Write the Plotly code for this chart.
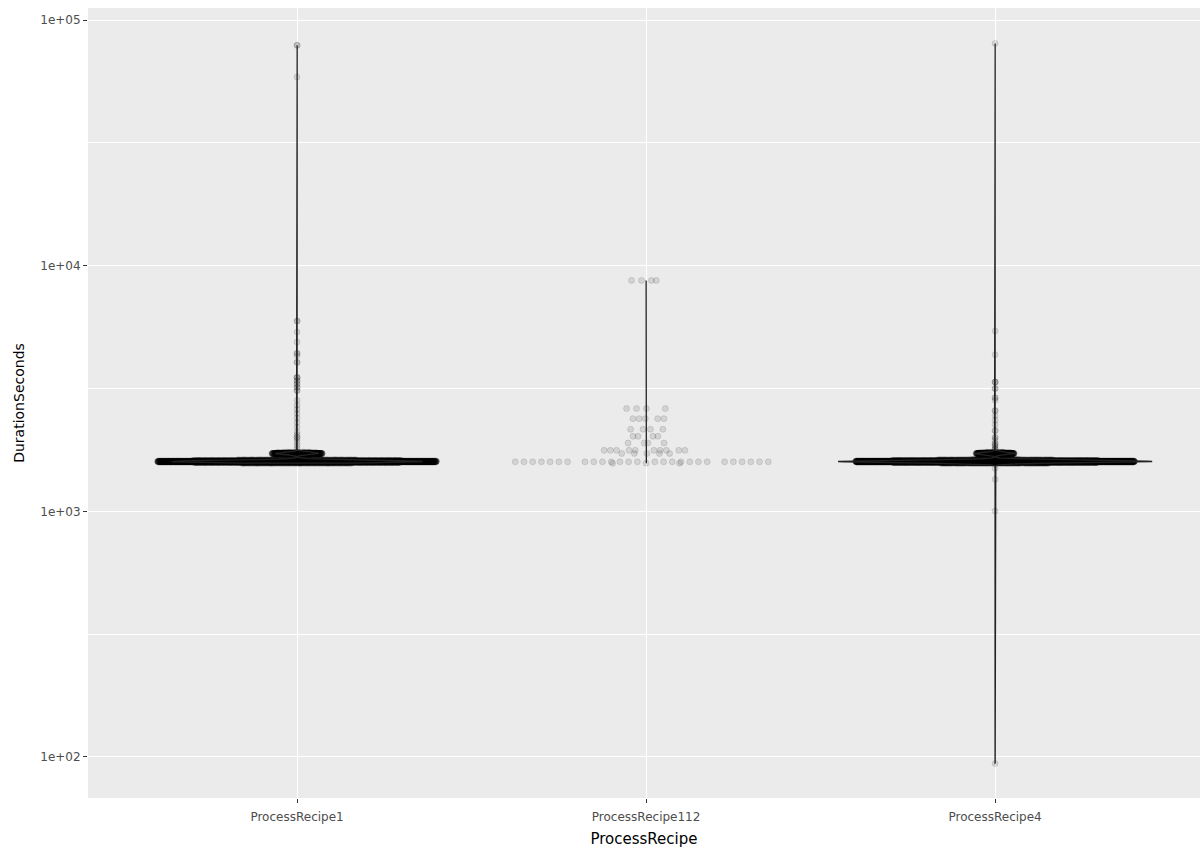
import numpy as np
import plotly.graph_objects as go

# ---------------- data ----------------
categories = ["ProcessRecipe1", "ProcessRecipe112", "ProcessRecipe4"]

# distinct run durations (seconds) and how many runs had each duration
recipe1_values = [1570, 1580, 1590, 1600, 1610, 1620, 1630,
                  1700, 1710, 1720, 1730, 1740,
                  1800, 1850, 1900, 1950, 2000, 2050, 2100, 2200, 2300, 2400,
                  2500, 2600, 2700, 2830, 3100, 3200, 3300, 3400, 3510,
                  4040, 4300, 4400, 4890, 5370, 5950, 58600, 78900]
recipe1_counts = [100, 350, 900, 900, 350, 100, 30,
                  15, 50, 280, 50, 15,
                  1, 1, 1, 1, 2, 1, 1, 1, 1, 1,
                  1, 1, 1, 1, 2, 2, 2, 2, 3,
                  2, 1, 2, 1, 1, 2, 1, 2]

recipe112_values = [1570, 1590, 1720, 1771, 1897, 2020, 2158, 2384, 2620, 8710]
recipe112_counts = [3, 27, 5, 10, 4, 4, 4, 5, 4, 4]

recipe4_values = [94, 1003, 1350, 1496,
                  1570, 1580, 1590, 1600, 1610, 1620, 1630,
                  1700, 1710, 1720, 1730, 1740,
                  1780, 1800, 1850, 1890, 1950, 2000, 2130, 2250, 2350, 2450,
                  2570, 2830, 2900, 3160, 3360, 4340, 5420, 80300]
recipe4_counts = [1, 1, 1, 1,
                  120, 400, 1150, 1150, 400, 120, 30,
                  15, 50, 260, 50, 15,
                  1, 2, 2, 2, 1, 2, 2, 1, 1, 1,
                  2, 1, 2, 2, 3, 1, 1, 1]

y_tick_values = [1e2, 1e3, 1e4, 1e5]
y_tick_labels = ["1e+02", "1e+03", "1e+04", "1e+05"]
y_minor_values = [10 ** 2.5, 10 ** 3.5, 10 ** 4.5]

groups = [(recipe1_values, recipe1_counts),
          (recipe112_values, recipe112_counts),
          (recipe4_values, recipe4_counts)]

# ---------------- helpers ----------------
POINT_BW = 0.004      # bandwidth (log10 units) used to spread the points
POINT_WIDTH = 0.4     # quasirandom half width
VIOLIN_WIDTH = 0.45   # violin half width


def nrd0(x):
    hi = np.std(x, ddof=1)
    q75, q25 = np.percentile(x, [75, 25])
    lo = min(hi, (q75 - q25) / 1.34)
    if lo <= 0:
        lo = hi if hi > 0 else 1.0
    return 0.9 * lo * len(x) ** -0.2


def kde(grid, vals, cnts, bw):
    vals = np.asarray(vals)[None, :]
    cnts = np.asarray(cnts, dtype=float)[None, :]
    g = np.asarray(grid)[:, None]
    k = np.exp(-0.5 * ((g - vals) / bw) ** 2) / (bw * np.sqrt(2 * np.pi))
    return (k * cnts).sum(axis=1) / cnts.sum()


def vdc(k):
    v, denom = 0.0, 1.0
    while k:
        denom *= 2
        k, rem = divmod(k, 2)
        v += rem / denom
    return v


BG = "#EBEBEB"
fig = go.Figure()

# ---------------- points (quasirandom) ----------------
for gi, (vals, cnts) in enumerate(groups):
    center = gi + 1
    lv = np.log10(np.asarray(vals, dtype=float))
    dens_at = kde(lv, lv, cnts, POINT_BW)
    rel = dens_at / dens_at.max()
    ys, xs = [], []
    order = np.argsort(lv)
    rank = 1
    for idx in order:
        for _ in range(cnts[idx]):
            off = (2 * vdc(rank) - 1) * POINT_WIDTH * rel[idx]
            xs.append(center + off)
            ys.append(vals[idx])
            rank += 1
    fig.add_trace(go.Scatter(
        x=xs, y=ys, mode="markers", hoverinfo="skip", showlegend=False,
        marker=dict(size=6, color="rgba(0,0,0,0.1)",
                    line=dict(color="rgba(0,0,0,0.14)", width=0.8)),
    ))

# ---------------- violins (scale = count) ----------------
vinfo = []
for gi, (vals, cnts) in enumerate(groups):
    lv = np.log10(np.asarray(vals, dtype=float))
    sample = np.repeat(lv, cnts)
    bw = max(nrd0(sample), POINT_BW)
    grid = np.linspace(lv.min(), lv.max(), 3000)
    extra = (lv[:, None] + bw * np.arange(-4, 4.01, 0.2)[None, :]).ravel()
    extra = extra[(extra >= lv.min()) & (extra <= lv.max())]
    grid = np.unique(np.concatenate([grid, extra]))
    d = kde(grid, lv, cnts, bw) * sum(cnts)
    vinfo.append((grid, d))
maxnd = max(d.max() for _, d in vinfo)
for gi, (grid, d) in enumerate(vinfo):
    center = gi + 1
    hw = VIOLIN_WIDTH * d / maxnd
    xs = np.concatenate([center + hw, (center - hw)[::-1], [center + hw[0]]])
    ys = 10 ** np.concatenate([grid, grid[::-1], [grid[0]]])
    fig.add_trace(go.Scatter(
        x=xs, y=ys, mode="lines", hoverinfo="skip", showlegend=False,
        line=dict(color="#222222", width=1.3),
    ))

font_family = "DejaVu Sans"
fig.update_layout(
    width=1202, height=848,
    margin=dict(l=88, r=2, t=8, b=50),
    paper_bgcolor="white", plot_bgcolor=BG,
    font=dict(family=font_family, color="#4D4D4D", size=12),
    showlegend=False,
    xaxis=dict(
        range=[0.401, 3.587], tickmode="array", tickvals=[1, 2, 3], ticktext=categories,
        showgrid=True, gridcolor="white", gridwidth=1.4, zeroline=False,
        ticks="outside", ticklen=4, tickcolor="#333333", tickwidth=1,
        ticklabelstandoff=4,
        tickfont=dict(size=12, color="#4D4D4D", family=font_family),
        title=dict(text="ProcessRecipe", font=dict(size=15, color="black", family=font_family), standoff=10),
        showline=False, automargin=False,
    ),
    yaxis=dict(
        type="log", range=[1.833, 5.049],
        tickmode="array", tickvals=y_tick_values, ticktext=y_tick_labels,
        showgrid=True, gridcolor="white", gridwidth=1.4, zeroline=False,
        ticks="outside", ticklen=4, tickcolor="#333333", tickwidth=1,
        tickfont=dict(size=12, color="#4D4D4D", family=font_family),
        minor=dict(tickmode="array", tickvals=y_minor_values, showgrid=True,
                   gridcolor="white", gridwidth=0.7, ticks=""),
        title=dict(text="DurationSeconds", font=dict(size=14, color="black", family=font_family), standoff=12),
        showline=False, automargin=False,
    ),
)

fig.write_html("out.html")
